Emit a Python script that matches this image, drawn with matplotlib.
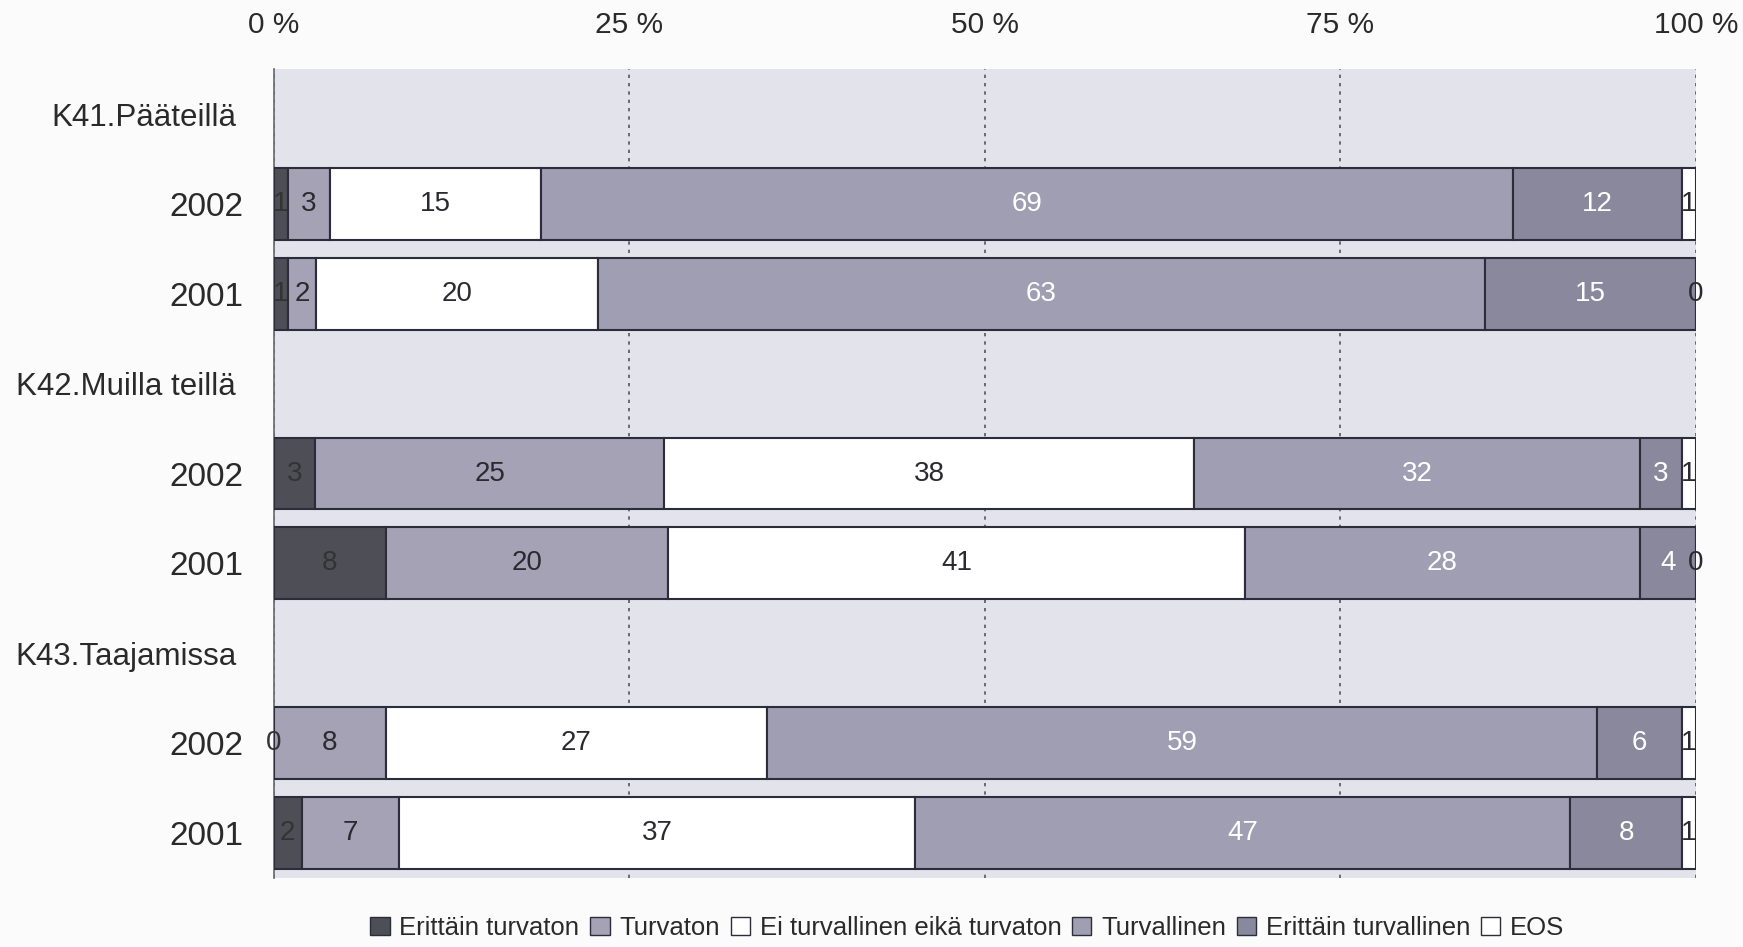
import numpy as np
import matplotlib
matplotlib.use('Agg')
from matplotlib import pyplot as plt
from matplotlib.patches import Patch

plt.rcParams['font.family'] = ['Liberation Sans', 'DejaVu Sans']

groups = ['K41.Pääteillä', 'K42.Muilla teillä', 'K43.Taajamissa']
years = ['2002', '2001']
series = ['Erittäin turvaton', 'Turvaton', 'Ei turvallinen eikä turvaton',
          'Turvallinen', 'Erittäin turvallinen', 'EOS']

# rows: K41 2002, K41 2001, K42 2002, K42 2001, K43 2002, K43 2001
erittain_turvaton = [1, 1, 3, 8, 0, 2]
turvaton = [3, 2, 25, 20, 8, 7]
ei_kumpikaan = [15, 20, 38, 41, 27, 37]
turvallinen = [69, 63, 32, 28, 59, 47]
erittain_turvallinen = [12, 15, 3, 4, 6, 8]
eos = [1, 0, 1, 0, 1, 1]

colors = ['#4e4e56', '#a4a2b4', '#ffffff', '#a09eb2', '#8a889c', '#ffffff']
text_colors = ['#333333', '#2a2a30', '#2a2a30', '#ffffff', '#ffffff', '#2a2a30']

values = np.array([erittain_turvaton, turvaton, ei_kumpikaan,
                   turvallinen, erittain_turvallinen, eos], dtype=float)
shares = values / values.sum(axis=0) * 100

# layout rows: header, 2002, 2001 for each group
row_labels = []
bar_rows = []
header_rows = []
r = 0
for g in groups:
    row_labels.append(g)
    header_rows.append(r)
    r += 1
    for y in years:
        row_labels.append(y)
        bar_rows.append(r)
        r += 1
bar_rows = np.array(bar_rows)

fig = plt.figure(figsize=(17.43, 9.47), dpi=100)
fig.patch.set_facecolor('#fbfbfb')
ax = fig.add_axes([0.157, 0.073, 0.816, 0.854])
ax.set_facecolor('#e3e3eb')

left = np.zeros(len(bar_rows))
for i in range(len(series)):
    ax.barh(bar_rows, shares[i], left=left, height=0.8, color=colors[i],
            edgecolor='#2c2c3a', linewidth=1.5, label=series[i], zorder=3)
    for j in range(len(bar_rows)):
        ax.text(left[j] + shares[i][j] / 2, bar_rows[j], '%d' % values[i][j],
                ha='center', va='center', fontsize=20, color=text_colors[i], zorder=4)
    left += shares[i]

ax.set_xlim(0, 100)
ax.set_ylim(r - 0.5, -0.5)
ax.set_xticks([0, 25, 50, 75, 100])
ax.set_xticklabels(['0 %', '25 %', '50 %', '75 %', '100 %'])
ax.xaxis.tick_top()
ax.tick_params(axis='x', length=0, pad=22, labelsize=21.5, colors='#2a2a2a')
ax.set_yticks(range(r))
ax.set_yticklabels(row_labels)
ax.tick_params(axis='y', length=0, pad=22, labelsize=24, colors='#2a2a2a')
for k, t in enumerate(ax.yaxis.get_major_ticks()):
    if k in header_rows:
        t.set_pad(27)
        t.label1.set_fontsize(22.5)

ax.grid(axis='x', linestyle=(0, (2, 3)), color='#555560', linewidth=1.2, zorder=1)
for s in ['top', 'right', 'bottom']:
    ax.spines[s].set_visible(False)
ax.spines['left'].set_color('#666670')
ax.spines['left'].set_linewidth(1.2)

handles = [Patch(facecolor=colors[i], edgecolor='#2c2c3a', linewidth=1.0) for i in range(len(series))]
fig.legend(handles, series, loc='lower center', bbox_to_anchor=(0.555, 0.007), ncol=6,
           frameon=False, fontsize=18.5, handlelength=0.75, handleheight=0.7,
           handletextpad=0.38, columnspacing=0.42, borderpad=0, borderaxespad=0,
           labelcolor='#2a2a2a')

fig.savefig('out.png', dpi=100, facecolor=fig.get_facecolor())
